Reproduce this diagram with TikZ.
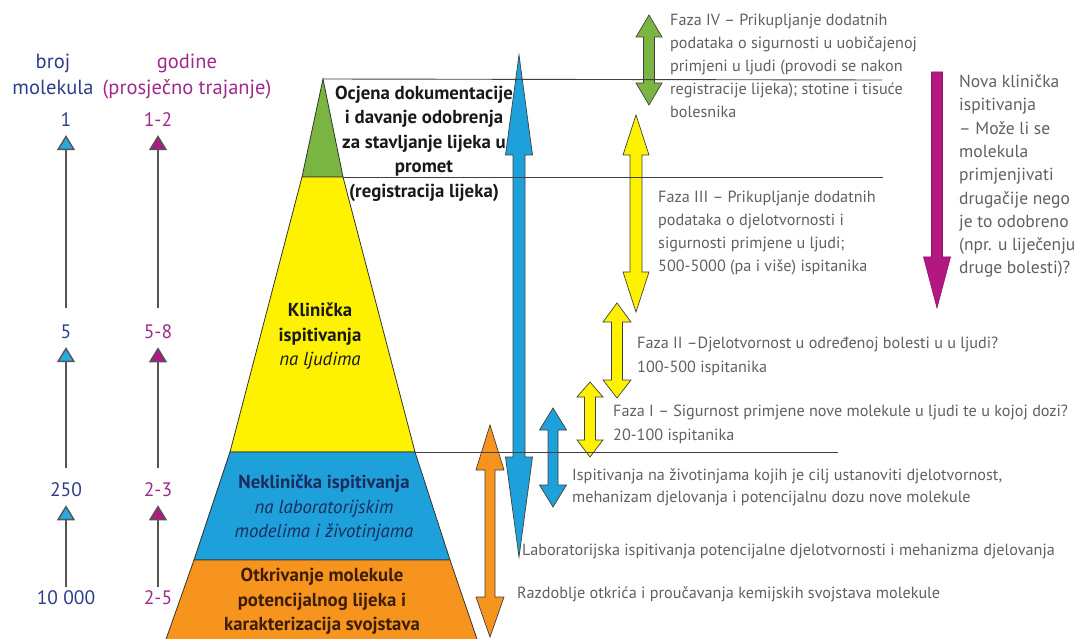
\documentclass[tikz,border=0pt]{standalone}
\usepackage{fontspec}
\setmainfont{PT Sans}
\usetikzlibrary{arrows.meta}

\definecolor{zelena}{RGB}{122,181,66}
\definecolor{zuta}{RGB}{255,242,0}
\definecolor{plava}{RGB}{30,160,219}
\definecolor{narancasta}{RGB}{247,148,29}
\definecolor{ljubicasta}{RGB}{178,24,128}
\definecolor{cijan}{RGB}{39,170,225}
\definecolor{tamnoplava}{RGB}{45,62,140}
\definecolor{tamnaljubicasta}{RGB}{160,40,140}
\definecolor{siva}{RGB}{95,96,98}
\definecolor{sivalinija}{RGB}{85,85,85}
\definecolor{mornarska}{RGB}{27,44,92}
\definecolor{smeda}{RGB}{60,30,8}

\tikzset{
	obrub/.style={draw=black!80,line width=0.8pt},
	crta/.style={-,draw=black!75,line width=0.9pt},
	strelica/.style={draw=black!75,line width=0.7pt},
	sivitekst/.style={font=\fontsize{16.2}{23.2}\selectfont,text=siva,anchor=base west,align=left,inner sep=0pt},
	naslov/.style={font=\bfseries\fontsize{18.8}{24.5}\selectfont,anchor=base,align=center,inner sep=0pt},
	zaglavlje/.style={font=\fontsize{20.5}{26}\selectfont,anchor=base,align=center,inner sep=0pt},
	broj/.style={font=\fontsize{19.5}{22}\selectfont,inner sep=2pt},
	stupac/.style={draw=sivalinija,line width=1.4pt,-{Triangle[length=15pt,width=18pt,fill=#1]}}
}

% dvostruka strelica: x, y vrha, y dna, pola drske, pola glave, glava gore, glava dolje, boja
\newcommand{\dvostrukastrelica}[8]{%
	\filldraw[strelica,fill=#8] (#1,#2) -- ({#1+#5},{#2+#6}) -- ({#1+#4},{#2+#6})
		-- ({#1+#4},{#3-#7}) -- ({#1+#5},{#3-#7}) -- (#1,#3) -- ({#1-#5},{#3-#7})
		-- ({#1-#4},{#3-#7}) -- ({#1-#4},{#2+#6}) -- ({#1-#5},{#2+#6}) -- cycle;}

\begin{document}
\begin{tikzpicture}[x=1pt,y=-1pt]
	\useasboundingbox (0,0) rectangle (1077,639);

	% piramida
	\coordinate (p0) at (323,79);
	\coordinate (p1) at (302,177);
	\coordinate (p2) at (343,177);
	\coordinate (p3) at (230,452);
	\coordinate (p4) at (415,452);
	\coordinate (p5) at (194,560);
	\coordinate (p6) at (450,560);
	\coordinate (p7) at (164,645);
	\coordinate (p8) at (479,645);

	\filldraw[obrub,fill=zelena] (p0) -- (p2) -- (p1) -- cycle;
	\filldraw[obrub,fill=zuta] (p1) -- (p2) -- (p4) -- (p3) -- cycle;
	\filldraw[obrub,fill=plava] (p3) -- (p4) -- (p6) -- (p5) -- cycle;
	\filldraw[obrub,fill=narancasta] (p5) -- (p6) -- (p8) -- (p7) -- cycle;

	% tekst u piramidi (base = zadnji redak)
	\node[naslov,text=black!90] (ocjena) at (424,197.5) {Ocjena dokumentacije\\i davanje odobrenja\\za stavljanje lijeka u\\promet\\(registracija lijeka)};
	\node[naslov,text=black!90] (klinicka) at (320,365.5) {Klinička\\ispitivanja\\{\mdseries\itshape na ljudima}};
	\node[naslov,text=mornarska] (neklinicka) at (324,537.5) {Neklinička ispitivanja\\{\mdseries\itshape na laboratorijskim}\\{\mdseries\itshape modelima i životinjama}};
	\node[naslov,text=smeda] (otkrivanje) at (322,630.5) {Otkrivanje molekule\\potencijalnog lijeka i\\karakterizacija svojstava};

	% lijevi stupci
	\node[zaglavlje,text=tamnoplava] (brojmol) at (53,95) {broj\\molekula};
	\node[zaglavlje,text=tamnaljubicasta] (godine) at (187,95) {godine\\(prosječno trajanje)};

	\node[broj,text=tamnoplava] (n1) at (66,120) {1};
	\node[broj,text=tamnoplava] (n5) at (66,332) {5};
	\node[broj,text=tamnoplava] (n250) at (66,490) {250};
	\node[broj,text=tamnoplava] (n10000) at (66,598) {10 000};

	\node[broj,text=tamnaljubicasta] (g1) at (158,120) {1-2};
	\node[broj,text=tamnaljubicasta] (g2) at (158,332) {5-8};
	\node[broj,text=tamnaljubicasta] (g3) at (158,490) {2-3};
	\node[broj,text=tamnaljubicasta] (g4) at (158,598) {2-5};

	\path[stupac=cijan] (n5) edge[shorten <=15pt,shorten >=6pt] (n1);
	\path[stupac=cijan] (n250) edge[shorten <=13pt,shorten >=6pt] (n5);
	\path[stupac=cijan] (n10000) edge[shorten <=2pt,shorten >=6pt] (n250);
	\path[stupac=ljubicasta] (g2) edge[shorten <=15pt,shorten >=6pt] (g1);
	\path[stupac=ljubicasta] (g3) edge[shorten <=13pt,shorten >=6pt] (g2);
	\path[stupac=ljubicasta] (g4) edge[shorten <=2pt,shorten >=6pt] (g3);

	% opisi faza (base = zadnji redak)
	\node[sivitekst] (faza4) at (670,118) {Faza IV – Prikupljanje dodatnih\\podataka o sigurnosti u uobičajenoj\\primjeni u ljudi (provodi se nakon\\registracije lijeka); stotine i tisuće\\bolesnika};
	\node[sivitekst] (faza3) at (658,272) {Faza III – Prikupljanje dodatnih\\podataka o djelotvornosti i\\sigurnosti primjene u ljudi;\\500-5000 (pa i više) ispitanika};
	\node[sivitekst] (faza2) at (637,372) {Faza II –Djelotvornost u određenoj bolesti u u ljudi?\\100-500 ispitanika};
	\node[sivitekst] (faza1) at (613,440) {Faza I – Sigurnost primjene nove molekule u ljudi te u kojoj dozi?\\20-100 ispitanika};
	\node[sivitekst,font=\fontsize{16.2}{22}\selectfont] (zivotinje) at (572,502) {Ispitivanja na životinjama kojih je cilj ustanoviti djelotvornost,\\mehanizam djelovanja i potencijalnu dozu nove molekule};
	\node[sivitekst] (laboratorij) at (522,555) {Laboratorijska ispitivanja potencijalne djelotvornosti i mehanizma djelovanja};
	\node[sivitekst] (razdoblje) at (517,598) {Razdoblje otkrića i proučavanja kemijskih svojstava molekule};
	\node[sivitekst,font=\fontsize{17.5}{23.3}\selectfont] (nova) at (959,274) {Nova klinička\\ispitivanja\\– Može li se\\molekula\\primjenjivati\\drugačije nego\\je to odobreno\\(npr. u liječenju\\druge bolesti)?};

	% strelice
	\dvostrukastrelica{519}{55}{557}{6}{13.5}{100}{100}{plava}
	\dvostrukastrelica{490}{425}{637}{5}{14}{45}{40}{narancasta}
	\dvostrukastrelica{553}{408}{507}{5}{13.5}{22}{22}{plava}
	\dvostrukastrelica{590}{382}{457}{5.5}{13}{15}{17}{zuta}
	\dvostrukastrelica{617}{303}{398}{5.5}{14}{19}{18}{zuta}
	\dvostrukastrelica{636}{115}{312}{6}{13}{40}{40}{zuta}
	\dvostrukastrelica{649}{15}{105}{5.5}{13}{22}{22}{zelena}
	\filldraw[draw=ljubicasta!80!black,line width=0.6pt,fill=ljubicasta] (931.5,72) -- (942.5,72) -- (942.5,257)
		-- (950.5,257) -- (937,308) -- (923.5,257) -- (931.5,257) -- cycle;

	% vodoravne crte
	\coordinate (c1) at (882,80);
	\coordinate (c2) at (883,177);
	\coordinate (c3) at (838,452);
	\path[crta] (p0) edge (c1);
	\path[crta] (p2) edge (c2);
	\path[crta] (p4) edge (c3);
\end{tikzpicture}
\end{document}
